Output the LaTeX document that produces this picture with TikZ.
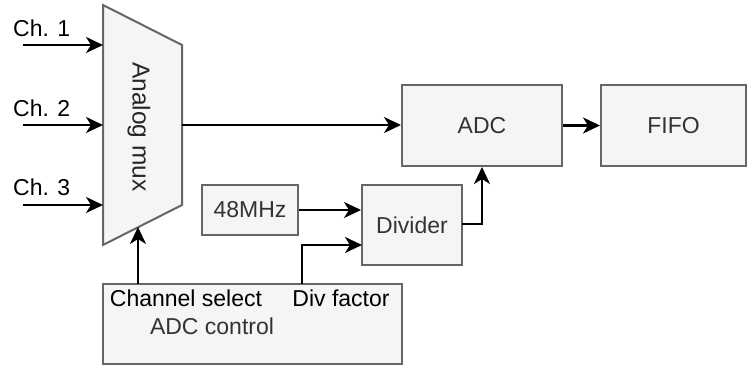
\documentclass[tikz,border=0pt]{standalone}
\usepackage{fontspec}
\setmainfont{Liberation Sans}
\usetikzlibrary{arrows.meta}
\definecolor{boxfill}{HTML}{F5F5F5}
\definecolor{boxline}{HTML}{666666}
\definecolor{boxtext}{HTML}{333333}
\tikzset{
  block/.style={draw=boxline, fill=boxfill, line width=2pt, text=boxtext,
    inner sep=0pt, font=\fontsize{23}{27}\selectfont},
  wire/.style={line width=2.3pt, -{Stealth[length=17pt,width=16pt,inset=5pt]}},
  label/.style={font=\fontsize{23}{27}\selectfont, inner sep=0pt},
}
\begin{document}
\begin{tikzpicture}[x=1pt,y=-1pt]
\useasboundingbox (0,0) rectangle (748,366);

% analog multiplexer
\draw[draw=boxline, fill=boxfill, line width=2pt]
  (103,5) -- (182,45) -- (182,205) -- (103,245) -- cycle;
\node[label, font=\fontsize{24.5}{28}\selectfont, text=black!85, rotate=-90] (muxlabel) at (139,127) {Analog mux};
\coordinate (mux-in1) at (103,45);
\coordinate (mux-in2) at (103,125);
\coordinate (mux-in3) at (103,205);
\coordinate (mux-out) at (182,125);
\coordinate (mux-sel) at (138,227);

% channel inputs
\coordinate (ch1) at (23,45);
\coordinate (ch2) at (23,125);
\coordinate (ch3) at (23,205);
\node[label, anchor=base west] (ch1lab) at (13,37) {Ch. 1};
\node[label, anchor=base west] (ch2lab) at (13,117) {Ch. 2};
\node[label, anchor=base west] (ch3lab) at (13,196) {Ch. 3};
\draw[wire] (ch1) -- (mux-in1);
\draw[wire] (ch2) -- (mux-in2);
\draw[wire] (ch3) -- (mux-in3);

% blocks
\node[block, minimum width=160pt, minimum height=81pt] (adc) at (482,125.5) {ADC};
\node[block, minimum width=145pt, minimum height=81pt] (fifo) at (673.5,125.5) {FIFO};
\node[block, minimum width=100pt, minimum height=80pt] (div) at (412,225) {Divider};
\node[block, minimum width=96pt, minimum height=50pt] (clk) at (250,210) {48MHz};
\node[block, minimum width=299pt, minimum height=80pt] (ctrl) at (252.5,324) {};
\node[label, text=boxtext, anchor=base] (ctrllab) at (212,335) {ADC control};
\node[label, text=black, anchor=base] (chsel) at (186,306.5) {Channel select};
\node[label, text=black, anchor=base] (divf) at (341,306.5) {Div factor};

% connections
\draw[wire] (mux-out) -- (adc.west |- mux-out);
\draw[wire] (adc.east) -- (fifo.west);
\draw[wire] (clk.east) -- (div.west |- clk.east);
\coordinate (divf-out) at (302,284);
\coordinate (div-in2) at (362,245);
\draw[wire] (divf-out) |- (div-in2);
\coordinate (div-out) at (462,224);
\draw[wire] (div-out) -| (adc.south);
\coordinate (sel-out) at (138,284);
\draw[wire] (sel-out) -- (mux-sel);
\end{tikzpicture}
\end{document}
